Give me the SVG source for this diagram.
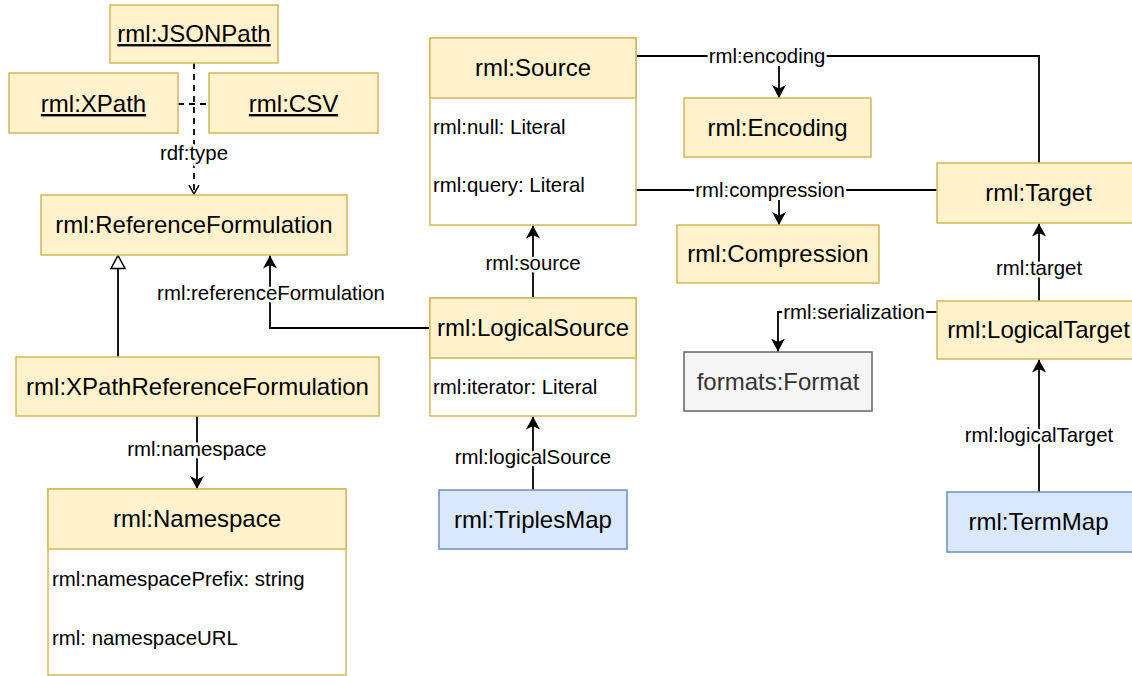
<svg xmlns="http://www.w3.org/2000/svg" width="1132" height="676" viewBox="0 0 1132 676">
<style>
text{font-family:"Liberation Sans",Arial,Helvetica,sans-serif;fill:#000}
.y{fill:#fff2cc;stroke:#d6b656;stroke-width:1.5}
.w{fill:#ffffff;stroke:#d6b656;stroke-width:1.5}
.b{fill:#dae8fc;stroke:#6c8ebf;stroke-width:1.5}
.g{fill:#f5f5f5;stroke:#666666;stroke-width:1.5}
.t{font-size:24px;text-anchor:middle}
.u{text-decoration:underline}
.a{font-size:20.4px}
.l{font-size:20.4px;text-anchor:middle;stroke:#fff;stroke-width:5;paint-order:stroke;stroke-linejoin:round}
.e{fill:none;stroke:#000;stroke-width:1.8}
.d{stroke-dasharray:6 5}
</style>
<defs>
<marker id="arr" markerUnits="userSpaceOnUse" viewBox="0 0 13 14" refX="13" refY="7" markerWidth="13" markerHeight="14" orient="auto">
<path d="M0,0 L13,7 L0,14 L3.5,7 Z" fill="#000"/>
</marker>
<marker id="open" markerUnits="userSpaceOnUse" viewBox="0 0 10 12" refX="9" refY="6" markerWidth="10" markerHeight="12" orient="auto">
<path d="M0,1 L9,6 L0,11" fill="none" stroke="#000" stroke-width="1.5"/>
</marker>
<marker id="tri" markerUnits="userSpaceOnUse" viewBox="0 0 15 16" refX="14" refY="8" markerWidth="15" markerHeight="16" orient="auto">
<path d="M1,1 L14,8 L1,15 Z" fill="#fff" stroke="#000" stroke-width="1.5"/>
</marker>
</defs>

<g id="connectors">
<path class="e d" d="M194,63 V194" marker-end="url(#open)"/>
<path class="e d" d="M178,104 H209"/>
<path class="e" d="M118,357 V255.5" marker-end="url(#tri)"/>
<path class="e" d="M430,328 H270 V255.5" marker-end="url(#arr)"/>
<path class="e" d="M197,416 V489" marker-end="url(#arr)"/>
<path class="e" d="M533,298 V225.5" marker-end="url(#arr)"/>
<path class="e" d="M533,490 V416.5" marker-end="url(#arr)"/>
<path class="e" d="M636,56 H1039 V163"/>
<path class="e" d="M779,66 V98" marker-end="url(#arr)"/>
<path class="e" d="M636,190 H937"/>
<path class="e" d="M779,200 V225" marker-end="url(#arr)"/>
<path class="e" d="M1039,301 V223.5" marker-end="url(#arr)"/>
<path class="e" d="M1039,492 V359.5" marker-end="url(#arr)"/>
<path class="e" d="M937,312 H778 V351.5" marker-end="url(#arr)"/>
<text class="l" x="194" y="160">rdf:type</text>
<text class="l" x="271" y="300">rml:referenceFormulation</text>
<text class="l" x="197" y="456">rml:namespace</text>
<text class="l" x="533" y="270">rml:source</text>
<text class="l" x="533" y="464">rml:logicalSource</text>
<text class="l" x="767" y="63">rml:encoding</text>
<text class="l" x="770" y="197">rml:compression</text>
<text class="l" x="1039" y="275">rml:target</text>
<text class="l" x="1039" y="442">rml:logicalTarget</text>
<text class="l" x="854" y="319">rml:serialization</text>
</g>

<g id="jsonpath"><rect class="y" x="110" y="5" width="168" height="58"/><text class="t u" x="194" y="42">rml:JSONPath</text></g>
<g id="xpath"><rect class="y" x="9" y="73" width="169" height="60"/><text class="t u" x="93.5" y="112">rml:XPath</text></g>
<g id="csv"><rect class="y" x="209" y="73" width="169" height="60"/><text class="t u" x="293.5" y="112">rml:CSV</text></g>
<g id="referenceFormulation"><rect class="y" x="41" y="195" width="306" height="60"/><text class="t" x="194" y="233">rml:ReferenceFormulation</text></g>
<g id="xpathReferenceFormulation"><rect class="y" x="16" y="357" width="363" height="59"/><text class="t" x="197.5" y="395">rml:XPathReferenceFormulation</text></g>
<g id="namespace">
<rect class="w" x="48" y="489" width="298" height="186"/>
<rect class="y" x="48" y="489" width="298" height="60"/>
<text class="t" x="197" y="527">rml:Namespace</text>
<text class="a" x="52" y="586">rml:namespacePrefix: string</text>
<text class="a" x="52" y="645">rml: namespaceURL</text>
</g>
<g id="source">
<rect class="w" x="430" y="38" width="206" height="187"/>
<rect class="y" x="430" y="38" width="206" height="60"/>
<text class="t" x="533" y="76">rml:Source</text>
<text class="a" x="433" y="134">rml:null: Literal</text>
<text class="a" x="433" y="192">rml:query: Literal</text>
</g>
<g id="logicalSource">
<rect class="w" x="430" y="298" width="206" height="118"/>
<rect class="y" x="430" y="298" width="206" height="60"/>
<text class="t" x="533" y="336">rml:LogicalSource</text>
<text class="a" x="433" y="394">rml:iterator: Literal</text>
</g>
<g id="triplesMap"><rect class="b" x="439" y="490" width="188" height="59"/><text class="t" x="533" y="528">rml:TriplesMap</text></g>
<g id="encoding"><rect class="y" x="684" y="98" width="187" height="59"/><text class="t" x="777.5" y="136">rml:Encoding</text></g>
<g id="compression"><rect class="y" x="677" y="225" width="202" height="58"/><text class="t" x="778" y="262">rml:Compression</text></g>
<g id="target"><rect class="y" x="937" y="163" width="203" height="60"/><text class="t" x="1038.5" y="201">rml:Target</text></g>
<g id="logicalTarget"><rect class="y" x="937" y="301" width="203" height="58"/><text class="t" x="1038.5" y="338">rml:LogicalTarget</text></g>
<g id="format"><rect class="g" x="684" y="352" width="188" height="59"/><text class="t" x="778" y="390" style="fill:#333">formats:Format</text></g>
<g id="termMap"><rect class="b" x="947" y="492" width="188" height="60"/><text class="t" x="1038.5" y="530">rml:TermMap</text></g>
</svg>
